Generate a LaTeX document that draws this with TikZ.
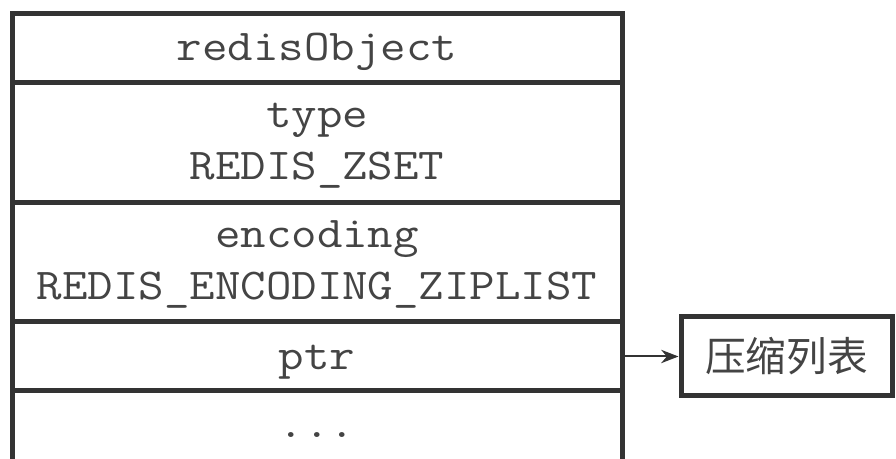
\documentclass[tikz,border=0pt]{standalone}
\usepackage{fontspec}
\setmonofont[FakeStretch=1.125]{Latin Modern Mono}
\newfontfamily\cjk{Noto Sans CJK SC}
\usetikzlibrary{arrows.meta}
\definecolor{lineclr}{HTML}{333333}
\definecolor{txtclr}{HTML}{444444}
\tikzset{
  cell/.style={draw=lineclr, line width=3.75pt, rectangle, inner sep=0pt, minimum width=457.5pt},
  lbl/.style={anchor=base, inner sep=0pt, text=txtclr, font=\ttfamily\fontsize{33}{38}\selectfont},
  zipbox/.style={draw=lineclr, line width=3.75pt, rectangle, inner sep=0pt, minimum width=158.25pt, minimum height=59.25pt,
     text=txtclr, font=\cjk\fontsize{30.5}{34}\selectfont},
  ptrarrow/.style={draw=lineclr, line width=1.5pt, -{Stealth[length=13pt,width=10pt]}}
}
\begin{document}
\begin{tikzpicture}[x=0.75pt,y=-0.75pt]
\useasboundingbox (0,0) rectangle (896,459);
\node[cell, minimum height=52.125pt] (c1) at (317,48.25) {};
\node[cell, minimum height=90pt] (c2) at (317,143) {};
\node[cell, minimum height=89.25pt] (c3) at (317,262.5) {};
\node[cell, minimum height=51.75pt] (c4) at (317,356.5) {};
\node[cell, minimum height=59.25pt] (c5) at (317,430.5) {};
\node[lbl] (t1) at (317,61) {redisObject};
\node[lbl] (t2a) at (317,128) {type};
\node[lbl] (t2b) at (317,180) {REDIS\_ZSET};
\node[lbl] (t3a) at (317,248) {encoding};
\node[lbl] (t3b) at (317,300) {REDIS\_ENCODING\_ZIPLIST};
\node[lbl] (t4) at (317,369.5) {ptr};
\node[lbl] (t5) at (317,437) {...};
\node[zipbox] (zip) at (786.5,356.5) {压缩列表};
\draw[ptrarrow] (c4.east) -- (zip.west);
\end{tikzpicture}
\end{document}
